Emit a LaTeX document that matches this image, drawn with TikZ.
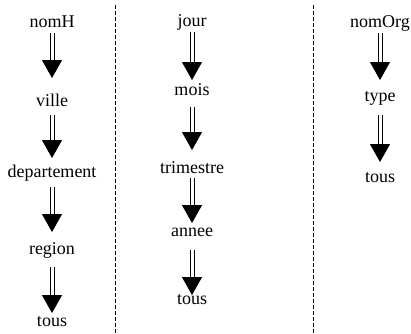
\documentclass[tikz,border=0pt]{standalone}
\usepackage{fontspec}
\setmainfont{Liberation Serif}
\usetikzlibrary{arrows.meta}
\tikzset{lvl/.style={inner sep=0pt, font=\fontsize{9}{11}\selectfont}, drill/.style={double, double distance=1.5pt, line width=.5pt, -{Triangle[width=10pt,length=9pt]}}, sep/.style={dash pattern=on 2pt off 1pt, line width=.5pt}}

\begin{document}
\begin{tikzpicture}[x=.5pt,y=-.5pt]
\useasboundingbox (0,0) rectangle (411,333);
% separateurs
\draw[sep] (115,5) -- (115,333); \draw[sep] (313,5) -- (313,333);
% hierarchies
\node[lvl] (nomH) at (52,22) {nomH}; \node[lvl] (ville) at (52,100) {ville}; \node[lvl] (dept) at (52,173) {departement};
\node[lvl] (region) at (52,250) {region}; \node[lvl] (tousH) at (52,322) {tous};
\node[lvl] (jour) at (192,22) {jour}; \node[lvl] (mois) at (192,90) {mois}; \node[lvl] (trim) at (192,168) {trimestre};
\node[lvl] (annee) at (192,232) {annee}; \node[lvl] (tousT) at (192,300) {tous};
\node[lvl] (nomOrg) at (380,23) {nomOrg}; \node[lvl] (type) at (380,98) {type}; \node[lvl] (tousO) at (380,178) {tous};
\foreach \a/\b/\s/\e in {nomH/ville/5.5/11, ville/dept/7.5/7.5, dept/region/7/9, region/tousH/8.5/4.5,
  jour/mois/5/5, mois/trim/8.5/9, trim/annee/5/4.5, annee/tousT/9/2.5, nomOrg/type/5/9, type/tousO/8.5/8}
  \draw[drill, shorten <=\s pt, shorten >=\e pt] (\a.center) -- (\b.center);
\end{tikzpicture}
\end{document}
